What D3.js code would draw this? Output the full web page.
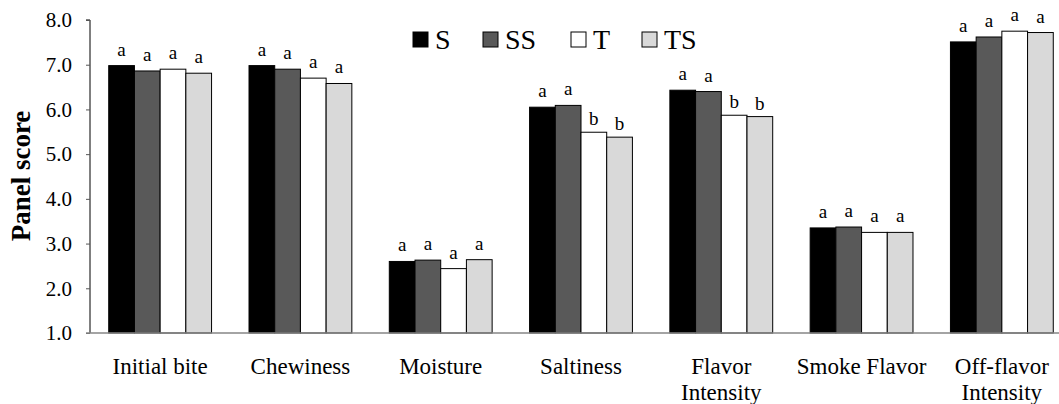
<!DOCTYPE html>
<html>
<head>
<meta charset="utf-8">
<script src="https://cdn.jsdelivr.net/npm/d3@7"></script>
<style>
  body { margin: 0; background: #fff; }
</style>
</head>
<body>
<div class="chart"></div>
<script>
// data
var categories = ["Initial bite", "Chewiness", "Moisture", "Saltiness", "Flavor Intensity", "Smoke Flavor", "Off-flavor Intensity"];
var catLines = [["Initial bite"], ["Chewiness"], ["Moisture"], ["Saltiness"], ["Flavor", "Intensity"], ["Smoke Flavor"], ["Off-flavor", "Intensity"]];
var series = ["S", "SS", "T", "TS"];
var valS  = [6.98, 6.98, 2.60, 6.05, 6.43, 3.35, 7.51];
var valSS = [6.86, 6.90, 2.63, 6.09, 6.40, 3.37, 7.62];
var valT  = [6.90, 6.70, 2.44, 5.49, 5.87, 3.25, 7.75];
var valTS = [6.81, 6.58, 2.64, 5.38, 5.84, 3.25, 7.72];
var letS  = ["a", "a", "a", "a", "a", "a", "a"];
var letSS = ["a", "a", "a", "a", "a", "a", "a"];
var letT  = ["a", "a", "a", "b", "b", "a", "a"];
var letTS = ["a", "a", "a", "b", "b", "a", "a"];
var yTicks = [1, 2, 3, 4, 5, 6, 7, 8];

var colors = { S: "#000000", SS: "#595959", T: "#ffffff", TS: "#d9d9d9" };
var font = "'Liberation Serif'";

var values = [valS, valSS, valT, valTS];
var letters = [letS, letSS, letT, letTS];

var rows = [];
for (var i = 0; i < categories.length; i++) {
    var bars = [];
    for (var j = 0; j < series.length; j++) {
        bars.push({ key: series[j], value: values[j][i], letter: letters[j][i] });
    }
    rows.push({ cat: categories[i], lines: catLines[i], bars: bars });
}

var width = 1059, height = 404;

var svg = d3.select(".chart")
    .append("svg")
    .attr("width", width)
    .attr("height", height);

var x = d3.scaleBand()
    .domain(categories)
    .range([90, 1072])
    .paddingInner(0.267)
    .paddingOuter(0.1335);

var x1 = d3.scaleBand()
    .domain(series)
    .range([0, x.bandwidth()]);

var y = d3.scaleLinear()
    .domain([1, 8])
    .range([333, 20]);

// y axis
var yAxis = svg.append("g")
    .attr("transform", "translate(90,0)")
    .call(d3.axisLeft(y).tickValues(yTicks).tickSize(4).tickPadding(14).tickFormat(d3.format(".1f")));
yAxis.select(".domain").attr("d", "M-4," + y(8) + "H0V" + y(1)).attr("stroke", "#000");
yAxis.selectAll(".tick line").attr("stroke", "#555");
yAxis.selectAll("text")
    .style("font-family", font)
    .style("font-size", "21px")
    .attr("fill", "#000");

// bars
var group = svg.selectAll(".grp")
    .data(rows)
    .enter().append("g")
    .attr("class", "grp")
    .attr("transform", function(d) { return "translate(" + x(d.cat) + ",0)"; });

group.selectAll("rect")
    .data(function(d) { return d.bars; })
    .enter().append("rect")
    .attr("x", function(d) { return x1(d.key); })
    .attr("y", function(d) { return y(d.value); })
    .attr("width", x1.bandwidth())
    .attr("height", function(d) { return y(1) - y(d.value); })
    .style("fill", function(d) { return colors[d.key]; })
    .style("stroke", "#000")
    .style("stroke-width", "1");

group.selectAll(".lbl")
    .data(function(d) { return d.bars; })
    .enter().append("text")
    .attr("class", "lbl")
    .attr("x", function(d) { return x1(d.key) + x1.bandwidth() / 2; })
    .attr("y", function(d) { return y(d.value) - (d.letter === "b" ? 7 : 10); })
    .attr("text-anchor", "middle")
    .style("font-family", font)
    .style("font-size", "19px")
    .text(function(d) { return d.letter; });

// x axis line
svg.append("line")
    .attr("x1", 86).attr("x2", 1072)
    .attr("y1", y(1)).attr("y2", y(1))
    .style("stroke", "#868686")
    .style("stroke-width", "1.5");

// category labels
var catLbl = svg.selectAll(".cat")
    .data(rows)
    .enter().append("text")
    .attr("class", "cat")
    .attr("text-anchor", "middle")
    .style("font-family", font)
    .style("font-size", "23px")
    .attr("y", 374);

catLbl.selectAll("tspan")
    .data(function(d) { return d.lines.map(function(l) { return { t: l, c: d.cat }; }); })
    .enter().append("tspan")
    .attr("x", function(d) { return x(d.c) + x.bandwidth() / 2; })
    .attr("dy", function(d, i) { return i === 0 ? 0 : 26; })
    .text(function(d) { return d.t; });

// y title
svg.append("text")
    .attr("transform", "translate(30,176) rotate(-90)")
    .attr("text-anchor", "middle")
    .style("font-family", font)
    .style("font-size", "27px")
    .style("font-weight", "bold")
    .text("Panel score");

// legend
var legX = [413, 483, 571, 642];
var legend = svg.selectAll(".leg")
    .data(series)
    .enter().append("g")
    .attr("class", "leg")
    .attr("transform", function(d, i) { return "translate(" + legX[i] + ",32)"; });

legend.append("rect")
    .attr("width", 15).attr("height", 15)
    .style("fill", function(d) { return colors[d]; })
    .style("stroke", "#000")
    .style("stroke-width", "1");

legend.append("text")
    .attr("x", 22)
    .attr("y", 17)
    .style("font-family", font)
    .style("font-size", "28px")
    .text(function(d) { return d; });
</script>
</body>
</html>
